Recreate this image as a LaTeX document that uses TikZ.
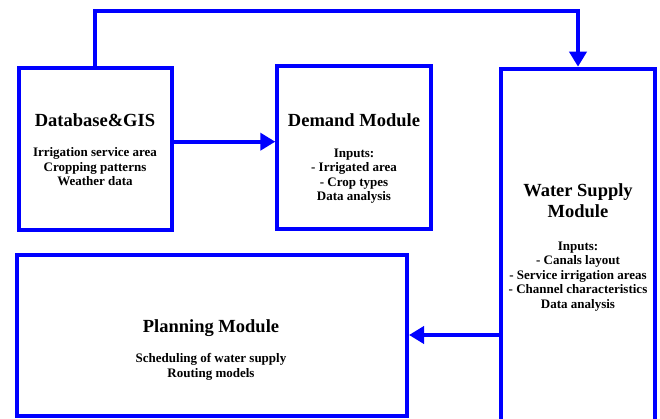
\documentclass[tikz,border=0pt]{standalone}
\usepackage{fontspec}
\setmainfont{Liberation Serif}
\usetikzlibrary{arrows.meta}
\definecolor{boxblue}{RGB}{0,0,255}
\tikzset{
  modbox/.style={draw=boxblue, line width=4pt, rectangle, inner sep=0pt},
  titletext/.style={font=\fontsize{18.5}{21}\selectfont\bfseries, align=center, anchor=base, inner sep=0pt},
  bodytext/.style={font=\fontsize{13}{14.5}\selectfont\bfseries, align=center, anchor=base, inner sep=0pt},
  flow/.style={draw=boxblue, line width=4pt, -{Triangle[length=15pt,width=17pt]}}
}
\begin{document}
\begin{tikzpicture}[x=1pt,y=-1pt]
\useasboundingbox (0,0) rectangle (660,419);
\begin{scope}
\clip (0,0) rectangle (660,419);
% boxes
\node[modbox, minimum width=153.5pt, minimum height=162pt] (db) at (95.3,149) {};
\node[modbox, minimum width=154pt, minimum height=162.5pt] (dem) at (354.3,147.3) {};
\node[modbox, minimum width=154pt, minimum height=380pt] (ws) at (577.7,258.7) {};
\node[modbox, minimum width=390pt, minimum height=161.3pt] (plan) at (212,335.3) {};
% texts (base anchor = baseline of the last line)
\node[titletext] (dbt) at (95,127) {Database\&GIS};
\node[bodytext] (dbb) at (95,186) {Irrigation service area\\Cropping patterns\\Weather data};
\node[titletext] (demt) at (354,127) {Demand Module};
\node[bodytext] (demb) at (354,201) {Inputs:\\- Irrigated area\\- Crop types\\Data analysis};
\node[titletext] (wst) at (578,218) {Water Supply\\Module};
\node[bodytext] (wsb) at (578,308) {Inputs:\\- Canals layout\\- Service irrigation areas\\- Channel characteristics\\Data analysis};
\node[titletext] (plt) at (211,332) {Planning Module};
\node[bodytext] (plb) at (211,377) {Scheduling of water supply\\Routing models};
% connectors
\draw[flow] (db.east |- 0,141.7) -- (dem.west |- 0,141.7);
\draw[flow] (ws.west |- 0,335) -- (plan.east |- 0,335);
\coordinate (c1) at (95.3,11.3);
\coordinate (c2) at (578,11.3);
\draw[flow] (db.north -| c1) -- (c1) -- (c2) -- (ws.north -| c2);
\end{scope}
\end{tikzpicture}
\end{document}
